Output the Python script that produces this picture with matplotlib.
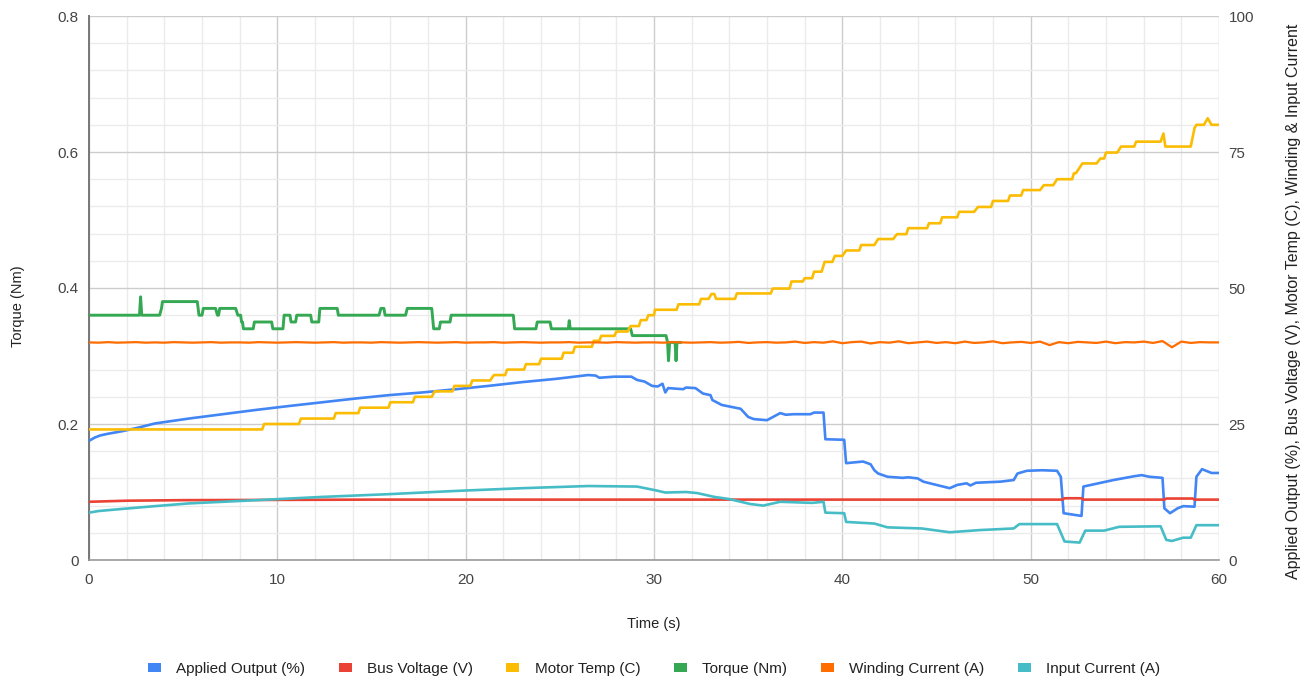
import numpy as np
import matplotlib
matplotlib.use("Agg")
import matplotlib.pyplot as plt
import matplotlib.patches as mpatches
from matplotlib.ticker import MultipleLocator, FuncFormatter

plt.rcParams["font.family"] = ["Liberation Sans", "DejaVu Sans"]

# ---------------------------------------------------------------------------
# data (time in s)
# ---------------------------------------------------------------------------
torque_t = [0, 2.68, 2.74, 2.80, 3.75, 3.85, 3.9, 5.75, 5.84, 6.0, 6.07, 6.72, 6.82,
            6.88, 6.94, 7.79, 7.9, 8.05, 8.1, 8.15, 8.2, 8.72, 8.78, 9.7, 9.76, 10.3,
            10.36, 10.67, 10.73, 10.97, 11.03, 11.77, 11.83, 12.2, 12.26, 13.18, 13.24,
            15.4, 15.5, 15.66, 15.72, 16.81, 16.9, 18.2, 18.3, 18.6, 18.66, 19.17, 19.23,
            22.53, 22.6, 23.73, 23.8, 24.48, 24.55, 25.45, 25.5, 25.55, 28.76, 28.85,
            30.64, 30.72, 30.77, 30.83, 31.12, 31.17, 31.22, 31.4]
torque = [0.36, 0.36, 0.387, 0.36, 0.36, 0.37, 0.38, 0.38, 0.36, 0.36, 0.37, 0.37, 0.36,
          0.36, 0.37, 0.37, 0.36, 0.36, 0.35, 0.35, 0.34, 0.34, 0.35, 0.35, 0.34, 0.34,
          0.36, 0.36, 0.35, 0.35, 0.36, 0.36, 0.35, 0.35, 0.37, 0.37, 0.36,
          0.36, 0.37, 0.37, 0.36, 0.36, 0.37, 0.37, 0.34, 0.34, 0.35, 0.35, 0.36,
          0.36, 0.34, 0.34, 0.35, 0.35, 0.34, 0.34, 0.352, 0.34, 0.34, 0.33,
          0.33, 0.32, 0.293, 0.32, 0.32, 0.293, 0.32, 0.32]

output_t = [0, 0.3, 0.6, 1.0, 1.8, 2.7, 3.5, 5.3, 7.1, 8.9, 10.6, 12.4, 14.2, 15.9, 17.7,
            19.5, 21.2, 23.0, 24.8, 26.5, 26.9, 27.1, 27.9, 28.8, 29.1, 29.5, 29.9, 30.2,
            30.45, 30.6, 30.75, 31.55, 31.7, 32.2, 32.6, 33.0, 33.1, 33.6, 34.6, 35.0,
            35.3, 36.0, 36.7, 37.0, 37.4, 38.3, 38.5, 39.0, 39.1, 40.1, 40.2, 41.1, 41.5,
            41.7, 41.9, 42.4, 43.2, 43.5, 44.0, 44.3, 45.0, 45.7, 46.1, 46.6, 46.8, 47.1,
            48.4, 49.1, 49.3, 49.8, 50.6, 51.4, 51.6, 51.75, 52.7, 52.8, 53.2, 54.4, 55.5,
            55.9, 56.3, 57.0, 57.1, 57.4, 57.8, 58.1, 58.7, 58.8, 59.1, 59.6, 60.0]
output = [21.9, 22.5, 22.9, 23.2, 23.7, 24.4, 25.1, 26.0, 26.8, 27.6, 28.3, 29.0, 29.7,
          30.3, 30.8, 31.4, 32.0, 32.7, 33.3, 34.0, 33.9, 33.5, 33.7, 33.7, 33.1, 32.8,
          32.0, 31.9, 32.4, 30.8, 31.6, 31.4, 31.7, 31.6, 30.6, 30.3, 29.4, 28.5, 27.8,
          26.3, 25.9, 25.7, 27.0, 26.7, 26.8, 26.8, 27.1, 27.1, 22.2, 22.1, 17.8, 18.1,
          17.6, 16.5, 15.9, 15.3, 15.1, 15.2, 15.0, 14.4, 13.8, 13.2, 13.8, 14.1, 13.7,
          14.2, 14.4, 14.7, 15.9, 16.4, 16.5, 16.4, 15.3, 8.6, 8.1, 13.5, 13.8, 14.7,
          15.4, 15.6, 15.3, 15.1, 9.5, 8.6, 9.5, 9.9, 9.8, 15.3, 16.7, 16.0, 16.0]

bus_t = [0, 2, 5, 15, 51.7, 51.8, 52.7, 52.8, 57.1, 57.2, 58.6, 58.7, 60]
bus_v = [10.7, 10.9, 11.0, 11.1, 11.1, 11.35, 11.35, 11.1, 11.1, 11.3, 11.3, 11.1, 11.1]

temp_t = [0, 9.2, 9.3, 11.15, 11.25, 13.0, 13.1, 14.3, 14.4, 15.9, 16.0, 17.2, 17.3,
          18.2, 18.35, 19.3, 19.4, 20.25, 20.35, 21.3, 21.5, 22.1, 22.2, 23.1, 23.2, 23.9,
          24.0, 25.1, 25.2, 25.7, 25.8, 26.7, 26.8, 27.1, 27.2, 27.9, 28.0, 28.6, 28.75,
          29.2, 29.3, 29.6, 29.7, 30.0, 30.05, 31.2, 31.3, 32.4, 32.5, 32.9, 33.05, 33.2,
          33.3, 34.3, 34.4, 36.2, 36.3, 37.2, 37.3, 37.9, 38.0, 38.4, 38.5, 38.9, 39.06,
          39.47, 39.6, 40.0, 40.2, 40.9, 41.0, 41.7, 41.9, 42.7, 42.9, 43.4, 43.5, 44.5,
          44.6, 45.2, 45.3, 46.1, 46.2, 47.0, 47.2, 47.9, 48.0, 48.8, 48.9, 49.5, 49.6,
          50.5, 50.7, 51.2, 51.4, 52.2, 52.3, 52.4, 52.75, 53.5, 53.7, 53.9, 54.0, 54.6,
          54.8, 55.5, 55.6, 56.9, 57.05, 57.15, 58.5, 58.7, 58.8, 59.2, 59.4, 59.6, 60.0]
temp = [24.0, 24.0, 25.0, 25.0, 26.0, 26.0, 27.0, 27.0, 28.0, 28.0, 29.0, 29.0, 30.0,
        30.0, 31.0, 31.0, 32.0, 32.0, 33.0, 33.0, 34.0, 34.0, 35.0, 35.0, 36.0, 36.0,
        37.0, 37.0, 38.1, 38.1, 39.2, 39.2, 40.3, 40.3, 41.2, 41.2, 42.0, 42.0, 43.0,
        43.0, 44.1, 44.1, 45.0, 45.0, 46.0, 46.0, 47.0, 47.0, 48.0, 48.0, 48.9, 48.9,
        48.0, 48.0, 49.0, 49.0, 49.9, 49.9, 51.2, 51.2, 51.8, 51.8, 53.0, 53.0, 54.8,
        54.8, 55.9, 55.9, 56.9, 56.9, 57.9, 57.9, 59.0, 59.0, 59.9, 59.9, 61.0, 61.0,
        61.9, 61.9, 63.0, 63.0, 64.0, 64.0, 64.9, 64.9, 66.0, 66.0, 67.0, 67.0, 68.0,
        68.0, 68.9, 68.9, 70.0, 70.0, 71.1, 71.1, 72.9, 72.9, 73.8, 73.8, 74.9, 74.9,
        76.0, 76.0, 76.9, 76.9, 78.4, 76.0, 76.0, 79.4, 80.0, 80.0, 81.2, 80.0, 80.0]

winding_t = np.arange(0, 60.01, 0.5)
winding = [40.0, 39.95, 40.05, 39.95, 40.0, 40.05, 39.95, 40.0, 39.95, 40.05,
           40.0, 39.95, 40.0, 40.05, 39.95, 40.0, 40.0, 39.95, 40.05, 40.0,
           39.95, 40.0, 40.05, 40.0, 39.95, 40.0, 40.05, 39.95, 40.0, 40.0,
           39.95, 40.05, 40.0, 39.95, 40.0, 40.05, 40.0, 39.95, 40.0, 40.05,
           39.95, 40.0, 40.0, 40.05, 39.95, 40.0, 40.05, 40.0, 39.95, 40.0,
           40.0, 40.05, 39.95, 40.0, 40.0, 39.95, 40.05, 40.0, 39.95, 40.0,
           40.0,
           39.95, 40.05, 40.0, 39.95, 40.0, 40.05, 39.95, 40.0, 40.1, 39.9,
           40.0, 40.05, 39.95, 40.0, 40.15, 39.9, 40.05, 39.95, 40.2, 39.85,
           40.05, 40.15, 39.8, 40.05, 39.95, 40.2, 39.85, 40.0, 40.15, 39.9,
           40.05, 39.85, 40.15, 39.9, 40.0, 40.2, 39.85, 40.0, 40.1, 39.9,
           40.15, 39.5, 40.05, 39.85, 40.1, 40.0, 39.9, 40.15, 39.85, 40.05,
           40.0, 40.15, 39.9, 40.25, 39.1, 40.15, 39.9, 40.05, 40.0, 40.0]

input_t = [0, 0.5, 1.8, 3.5, 5.3, 8.9, 12.4, 15.9, 19.5, 23.0, 26.5, 29.1, 30.1, 30.6,
           31.7, 32.3, 33.2, 34.0, 35.1, 35.8, 36.7, 38.4, 39.0, 39.1, 40.1, 40.2, 41.7,
           42.4, 44.2, 45.7, 47.3, 49.1, 49.4, 51.4, 51.8, 52.6, 52.9, 53.9, 54.7, 56.9,
           57.2, 57.5, 58.1, 58.5, 58.8, 60.0]
input_cur = [8.7, 9.0, 9.4, 9.9, 10.4, 11.0, 11.6, 12.1, 12.7, 13.2, 13.6, 13.5, 12.8,
             12.4, 12.5, 12.3, 11.6, 11.2, 10.3, 10.0, 10.7, 10.5, 10.7, 8.7, 8.6, 7.0,
             6.7, 6.0, 5.8, 5.1, 5.5, 5.8, 6.6, 6.6, 3.4, 3.2, 5.4, 5.4, 6.1, 6.2, 3.7,
             3.5, 4.1, 4.1, 6.4, 6.4]

COLORS = {
    "output": "#4285F4",
    "bus": "#EA4335",
    "temp": "#FBBC04",
    "torque": "#34A853",
    "winding": "#FF6D01",
    "input": "#46BDC6",
}

# ---------------------------------------------------------------------------
# figure
# ---------------------------------------------------------------------------
fig = plt.figure(figsize=(13.16, 6.85), dpi=100)
ax = fig.add_axes([89 / 1316, 125 / 685, 1130 / 1316, 544 / 685])
ax2 = ax.twinx()

ax.set_xlim(0, 60)
ax.set_ylim(0, 0.8)
ax2.set_ylim(0, 100)

ax.xaxis.set_major_locator(MultipleLocator(10))
ax.xaxis.set_minor_locator(MultipleLocator(2))
ax.yaxis.set_major_locator(MultipleLocator(0.2))
ax.yaxis.set_minor_locator(MultipleLocator(0.04))
ax2.yaxis.set_major_locator(MultipleLocator(25))
ax.yaxis.set_major_formatter(FuncFormatter(lambda v, _: f"{v:g}"))

ax.grid(which="major", color="#cccccc", linewidth=1.0)
ax.grid(which="minor", color="#ebebeb", linewidth=1.0)
ax.set_axisbelow(True)

for a in (ax, ax2):
    a.tick_params(which="both", length=0, labelsize=11, labelcolor="#444444")
    for side in ("top", "right", "left", "bottom"):
        a.spines[side].set_visible(False)
ax.tick_params(axis="y", pad=7.5)
ax.tick_params(axis="x", pad=9)
ax2.tick_params(axis="y", pad=7)
ax.spines["left"].set_visible(True)
ax.spines["left"].set_color("#777777")
ax.spines["left"].set_linewidth(1.4)
ax.spines["bottom"].set_visible(True)
ax.spines["bottom"].set_color("#999999")
ax.spines["bottom"].set_linewidth(1.2)

lw = 1.9
ax.plot(torque_t, torque, color=COLORS["torque"], lw=lw + 0.2, zorder=3)

ax2.plot(output_t, output, color=COLORS["output"], lw=lw)
ax2.plot(bus_t, bus_v, color=COLORS["bus"], lw=lw)
ax2.plot(temp_t, temp, color=COLORS["temp"], lw=lw)
ax2.plot(winding_t, winding, color=COLORS["winding"], lw=1.6)
ax2.plot(input_t, input_cur, color=COLORS["input"], lw=lw)

ax.set_xlabel("Time (s)", fontsize=10.5, color="#222222")
ax.xaxis.set_label_coords(0.5, -0.104)
ax.set_ylabel("Torque (Nm)", fontsize=10.5, color="#222222")
ax.yaxis.set_label_coords(-0.0566, 0.467)
ax2.set_ylabel("Applied Output (%), Bus Voltage (V), Motor Temp (C), Winding & Input Current",
               fontsize=11.5, color="#222222")
ax2.yaxis.set_label_coords(1.059, 0.476)

labels = ["Applied Output (%)", "Bus Voltage (V)", "Motor Temp (C)",
          "Torque (Nm)", "Winding Current (A)", "Input Current (A)"]
keys = ["output", "bus", "temp", "torque", "winding", "input"]
handles = [mpatches.Patch(facecolor=COLORS[k], edgecolor="none", label=l)
           for k, l in zip(keys, labels)]
fig.legend(handles=handles, loc="center", bbox_to_anchor=(654 / 1316, 16 / 685),
           ncol=6, frameon=False, fontsize=11, handlelength=0.85, handleheight=0.45,
           handletextpad=1.0, columnspacing=2.2, labelcolor="#222222")

fig.savefig("out.png", dpi=100)
